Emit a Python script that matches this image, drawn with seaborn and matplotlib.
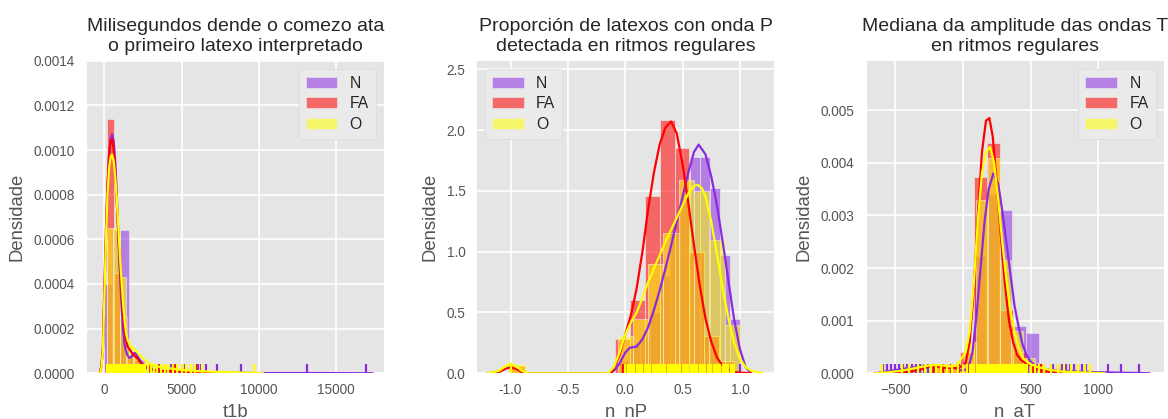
import numpy as np
import pandas as pd
import matplotlib
matplotlib.use("Agg")
import matplotlib.pyplot as plt
import seaborn as sns
from matplotlib.ticker import FormatStrFormatter, MultipleLocator

# ---------------------------------------------------------------------------
# Groups and colours
# ---------------------------------------------------------------------------
groups = ["N", "FA", "O"]
colors = {"N": "#8A2BE2", "FA": "#FF0000", "O": "#FFFF00"}

# ---------------------------------------------------------------------------
# t1b: ms from start to first interpreted beat
# ---------------------------------------------------------------------------
t1b_bin0 = {"N": -40, "FA": 175, "O": 150}
t1b_binw = {"N": 540, "FA": 430, "O": 420}
t1b_hist_N = [0.0004, 0.00064, 0.000644, 0.00008, 0.00006, 0.00004, 0.00002,
              0.00001, 0.00001, 0.000008, 0.000005, 0.000012, 0.000006, 0.000006,
              0.0, 0.000004, 0.0, 0.0, 0.0, 0.0, 0.0, 0.0, 0.0, 0.0, 0.000004,
              0.0, 0.0, 0.0, 0.0, 0.0, 0.0, 0.000004]
t1b_hist_FA = [0.00114, 0.00045, 0.00025, 0.00008, 0.00006, 0.00004, 0.00002,
               0.00001, 0.00001, 0.00001, 0.00001, 0.0, 0.0, 0.00001]
t1b_hist_O = [0.00065, 0.00065, 0.00043, 0.00012, 0.00009, 0.00005, 0.00003,
              0.00002, 0.000015, 0.00001, 0.00001, 0.00001, 0.000008, 0.000008,
              0.000005, 0.000005, 0.0, 0.0, 0.0, 0.0, 0.0, 0.0, 0.000005]

t1b_kde_x_N = [-300, -200, -100, 0, 100, 200, 300, 400, 500, 600, 700, 800, 900,
               1000, 1100, 1200, 1300, 1400, 1500, 1600, 1700, 1800, 1900, 2000,
               2100, 2200, 2400, 2600, 2800, 3000, 3500, 4000, 5000, 6000, 7000,
               8000, 9000, 10000, 12000, 14000, 16000, 17400]
t1b_kde_y_N = [0.0, 0.00003, 0.0001, 0.00036, 0.0006, 0.00083, 0.00098, 0.00105,
               0.00107, 0.00104, 0.00095, 0.0008, 0.00062, 0.00046, 0.00031,
               0.0002, 0.00013, 0.0001, 0.00008, 0.00007, 0.00007, 0.00008,
               0.00009, 0.00009, 0.00008, 0.00007, 0.00005, 0.00003, 0.00002,
               0.000015, 0.00001, 0.000008, 0.000006, 0.000005, 0.000004,
               0.000003, 0.000002, 0.000001, 0.000001, 0.000001, 0.0000005, 0.0]
t1b_kde_x_FA = [-300, -200, -100, 0, 100, 200, 300, 400, 500, 600, 700, 800, 900,
                1000, 1100, 1200, 1300, 1400, 1500, 1700, 1900, 2100, 2300, 2600,
                3000, 3500, 4000, 4500, 5000, 5500, 6000, 6500, 7000, 7500]
t1b_kde_y_FA = [0.0, 0.00003, 0.00012, 0.0004, 0.00065, 0.00085, 0.00098, 0.00104,
                0.00105, 0.001, 0.0009, 0.00077, 0.00062, 0.00048, 0.00037,
                0.00027, 0.0002, 0.00015, 0.00012, 0.0001, 0.00008, 0.00007,
                0.00005, 0.00003, 0.00002, 0.000012, 0.00001, 0.00001, 0.000008,
                0.000006, 0.000005, 0.000003, 0.000002, 0.0]
t1b_kde_x_O = [-300, -200, -100, 0, 100, 200, 300, 400, 500, 600, 700, 800, 900,
               1000, 1100, 1200, 1300, 1400, 1500, 1700, 1900, 2100, 2300, 2600,
               3000, 3500, 4000, 4500, 5000, 6000, 7000, 8000, 9000, 10000, 10300]
t1b_kde_y_O = [0.0, 0.00002, 0.0001, 0.00035, 0.0006, 0.0008, 0.00092, 0.00097,
               0.00098, 0.00095, 0.00088, 0.00078, 0.00066, 0.00053, 0.00042,
               0.00032, 0.00024, 0.00018, 0.00015, 0.00012, 0.00011, 0.0001,
               0.00008, 0.00006, 0.00004, 0.00003, 0.000025, 0.00002, 0.000015,
               0.00001, 0.000007, 0.000005, 0.000003, 0.000001, 0.0]

t1b_rug_N = [210, 300, 380, 460, 540, 620, 700, 790, 880, 980, 1090, 1200, 1330,
             1480, 1650, 1850, 2100, 2450, 2900, 3600, 4300, 5200, 6070, 6280,
             6610, 7320, 8820, 13150, 16970]
t1b_rug_FA = [180, 260, 340, 420, 500, 580, 660, 750, 850, 960, 1080, 1220, 1380,
              1560, 1780, 2050, 2400, 2900, 3500, 4440, 4590, 5850, 5960]
t1b_rug_O = [160, 230, 290, 340, 390, 430, 470, 510, 560, 600, 650, 700, 760, 820,
             880, 950, 1020, 1100, 1180, 1260, 1350, 1440, 1540, 1650, 1760, 1880,
             2000, 2120, 2250, 2380, 2520, 2660, 2820, 2990, 3180, 3400, 3650,
             3900, 4150, 4420, 4700, 5050, 5300, 5620, 5900, 6300, 9710]

# ---------------------------------------------------------------------------
# n_nP: proportion of beats with detected P wave in regular rhythms
# ---------------------------------------------------------------------------
nnp_bin0 = {"N": -0.05, "FA": -1.0, "O": -1.0}
nnp_binw = {"N": 0.0875, "FA": 0.13, "O": 0.1333}
nnp_hist_N = [0.1, 0.25, 0.3, 0.5, 0.8, 1.15, 1.45, 1.78, 1.78, 1.52, 0.97, 0.45]
nnp_hist_FA = [0.06, 0.0, 0.0, 0.0, 0.0, 0.0, 0.0, 0.28, 0.6, 1.46, 2.08, 1.85,
               1.0, 0.31, 0.1]
nnp_hist_O = [0.08, 0.0, 0.0, 0.0, 0.0, 0.0, 0.0, 0.31, 0.45, 0.9, 1.15, 1.59,
              1.5, 1.1, 0.4]

nnp_kde_x_N = [-0.15, -0.1, -0.05, 0.0, 0.04, 0.1, 0.15, 0.2, 0.25, 0.3, 0.35,
               0.4, 0.45, 0.5, 0.55, 0.6, 0.64, 0.7, 0.75, 0.8, 0.85, 0.9, 0.95,
               1.0, 1.05, 1.1]
nnp_kde_y_N = [0.0, 0.02, 0.08, 0.17, 0.21, 0.22, 0.28, 0.38, 0.52, 0.68, 0.86,
               1.05, 1.25, 1.45, 1.65, 1.82, 1.88, 1.80, 1.62, 1.38, 1.08, 0.76,
               0.44, 0.2, 0.05, 0.0]
nnp_kde_x_FA = [-1.2, -1.1, -1.05, -1.0, -0.95, -0.9, -0.85, -0.5, -0.12, -0.05,
                0.0, 0.05, 0.1, 0.15, 0.2, 0.25, 0.3, 0.35, 0.4, 0.45, 0.5, 0.55,
                0.6, 0.65, 0.7, 0.75, 0.8, 0.85, 0.9, 0.95, 1.0, 1.1]
nnp_kde_y_FA = [0.0, 0.01, 0.035, 0.05, 0.035, 0.01, 0.0, 0.0, 0.0, 0.15, 0.32,
                0.48, 0.7, 1.0, 1.35, 1.65, 1.88, 2.02, 2.07, 1.97, 1.72, 1.4,
                1.05, 0.72, 0.45, 0.26, 0.13, 0.06, 0.03, 0.01, 0.005, 0.0]
nnp_kde_x_O = [-1.2, -1.1, -1.05, -1.0, -0.95, -0.9, -0.85, -0.5, -0.15, -0.1,
               -0.05, 0.0, 0.05, 0.1, 0.15, 0.2, 0.25, 0.3, 0.35, 0.4, 0.45, 0.5,
               0.55, 0.6, 0.63, 0.67, 0.7, 0.75, 0.8, 0.85, 0.9, 0.95, 1.0, 1.05,
               1.1, 1.2]
nnp_kde_y_O = [0.0, 0.02, 0.055, 0.08, 0.055, 0.02, 0.0, 0.0, 0.0, 0.05, 0.17,
               0.32, 0.42, 0.5, 0.62, 0.75, 0.86, 0.97, 1.08, 1.18, 1.28, 1.38,
               1.48, 1.54, 1.55, 1.52, 1.45, 1.25, 0.98, 0.7, 0.45, 0.25, 0.12,
               0.05, 0.02, 0.0]

nnp_rug_N = [0.0, 0.05, 0.12, 0.2, 0.3, 0.4, 0.5, 0.6, 0.7, 0.8, 0.9, 1.0]
nnp_rug_FA = [-1.0, -0.02, 0.05, 0.1, 0.15, 0.2, 0.25, 0.3, 0.35, 0.4, 0.45,
              0.5, 0.55, 0.6, 0.7, 0.8]
nnp_rug_O = [-1.0, 0.0, 0.02, 0.03, 0.05, 0.07, 0.08, 0.1, 0.12, 0.13, 0.15,
             0.17, 0.18, 0.2, 0.22, 0.24, 0.25, 0.27, 0.29, 0.3, 0.32, 0.33,
             0.35, 0.37, 0.38, 0.4, 0.42, 0.43, 0.45, 0.47, 0.48, 0.5, 0.52,
             0.53, 0.55, 0.57, 0.58, 0.6, 0.62, 0.63, 0.65, 0.67, 0.68, 0.7,
             0.72, 0.73, 0.75, 0.77, 0.78, 0.8, 0.82, 0.83, 0.85, 0.87, 0.88,
             0.9, 0.92, 0.93, 0.95]

# ---------------------------------------------------------------------------
# n_aT: median T-wave amplitude in regular rhythms
# ---------------------------------------------------------------------------
nat_bin0 = {"N": -610, "FA": -216, "O": -610}
nat_binw = {"N": 97.5, "FA": 98, "O": 88}
nat_hist_N = [0.00004, 0.00005, 0.00005, 0.00005, 0.00003, 0.00002, 0.0001,
              0.00222, 0.0034, 0.00311, 0.0009, 0.00077, 0.0001, 0.00005,
              0.00005, 0.00004, 0.0, 0.00001, 0.00001, 0.00001]
nat_hist_FA = [0.00015, 0.00008, 0.0004, 0.00373, 0.00438, 0.0012, 0.0004,
               0.0002, 0.00005]
nat_hist_O = [0.00003, 0.00005, 0.00008, 0.0001, 0.00014, 0.00012, 0.00015,
              0.0006, 0.0033, 0.0041, 0.00216, 0.0008, 0.0003, 0.0001, 0.00006,
              0.00004, 0.00004, 0.00003]

nat_kde_x_N = [-650, -600, -500, -400, -300, -200, -100, -40, 0, 40, 70, 100, 130,
               160, 190, 225, 260, 290, 320, 350, 380, 410, 440, 470, 500, 550,
               600, 700, 800, 900, 1000, 1100, 1200, 1300, 1380]
nat_kde_y_N = [0.0, 0.00002, 0.00006, 0.0001, 0.00013, 0.00015, 0.00012, 0.00008,
               0.00005, 0.0001, 0.0004, 0.0011, 0.002, 0.0029, 0.0035, 0.0038,
               0.0036, 0.0031, 0.0025, 0.0019, 0.0013, 0.0009, 0.00055, 0.00035,
               0.00022, 0.00012, 0.00008, 0.00005, 0.00004, 0.00003, 0.00002,
               0.000015, 0.00001, 0.000005, 0.0]
nat_kde_x_FA = [-650, -500, -400, -300, -250, -220, -180, -120, -60, -20, 20, 50,
                80, 110, 140, 170, 195, 220, 250, 280, 310, 340, 370, 400, 430,
                460, 500, 550, 600, 700, 800]
nat_kde_y_FA = [0.0, 0.00001, 0.00003, 0.00008, 0.00013, 0.00016, 0.00012, 0.0001,
                0.0001, 0.00012, 0.0002, 0.0006, 0.0016, 0.003, 0.0042, 0.0048,
                0.00485, 0.0045, 0.0036, 0.0026, 0.0017, 0.001, 0.0006, 0.00035,
                0.00025, 0.0002, 0.00015, 0.00008, 0.00004, 0.00001, 0.0]
nat_kde_x_O = [-650, -550, -450, -350, -250, -200, -150, -100, -50, -20, 20, 50,
               80, 110, 140, 170, 200, 230, 260, 290, 320, 350, 380, 410, 440,
               480, 550, 650, 750, 850, 950, 1050]
nat_kde_y_O = [0.0, 0.00002, 0.00005, 0.0001, 0.00015, 0.00016, 0.00015, 0.00013,
               0.00015, 0.00025, 0.0004, 0.0008, 0.0017, 0.0029, 0.0038, 0.0042,
               0.0043, 0.004, 0.0033, 0.0025, 0.0018, 0.0012, 0.0008, 0.0005,
               0.0003, 0.0002, 0.00012, 0.00006, 0.00003, 0.00002, 0.00001, 0.0]

nat_rug_N = [-590, -560, -530, -500, -470, -440, -410, -380, -350, -320, -290,
             -260, -230, 60, 120, 180, 240, 300, 360, 420, 480, 540, 665, 700,
             730, 760, 790, 820, 850, 880, 910, 1070, 1167, 1302]
nat_rug_FA = [-216, -150, -90, -30, 40, 100, 160, 220, 280, 340, 400, 460, 520,
              580]
nat_rug_O = [-600, -450, -400, -330, -280, -240, -200, -160, -120, -80, -40, 0,
             30, 55, 70, 85, 100, 115, 130, 145, 160, 175, 190, 205, 220, 235,
             250, 265, 280, 295, 310, 325, 340, 355, 370, 385, 400, 415, 430,
             445, 460, 475, 500, 530, 560, 600, 650, 700, 750, 800, 850, 900, 940]

# ---------------------------------------------------------------------------
# Panels
# ---------------------------------------------------------------------------
panels = [
    dict(title="Milisegundos dende o comezo ata\no primeiro latexo interpretado",
         xlabel="t1b", bin0=t1b_bin0, binw=t1b_binw,
         hist={"N": t1b_hist_N, "FA": t1b_hist_FA, "O": t1b_hist_O},
         kde={"N": (t1b_kde_x_N, t1b_kde_y_N), "FA": (t1b_kde_x_FA, t1b_kde_y_FA),
              "O": (t1b_kde_x_O, t1b_kde_y_O)},
         rug={"N": t1b_rug_N, "FA": t1b_rug_FA, "O": t1b_rug_O},
         xlim=(-1150, 18100), ylim=(0, 0.0014), xstep=5000, ystep=0.0002,
         yfmt="%.4f", xfmt=None, legend_loc="upper right"),
    dict(title="Proporción de latexos con onda P\ndetectada en ritmos regulares",
         xlabel="n_nP", bin0=nnp_bin0, binw=nnp_binw,
         hist={"N": nnp_hist_N, "FA": nnp_hist_FA, "O": nnp_hist_O},
         kde={"N": (nnp_kde_x_N, nnp_kde_y_N), "FA": (nnp_kde_x_FA, nnp_kde_y_FA),
              "O": (nnp_kde_x_O, nnp_kde_y_O)},
         rug={"N": nnp_rug_N, "FA": nnp_rug_FA, "O": nnp_rug_O},
         xlim=(-1.29, 1.30), ylim=(0, 2.57), xstep=0.5, ystep=0.5,
         yfmt="%.1f", xfmt="%.1f", legend_loc="upper left"),
    dict(title="Mediana da amplitude das ondas T\nen ritmos regulares",
         xlabel="n_aT", bin0=nat_bin0, binw=nat_binw,
         hist={"N": nat_hist_N, "FA": nat_hist_FA, "O": nat_hist_O},
         kde={"N": (nat_kde_x_N, nat_kde_y_N), "FA": (nat_kde_x_FA, nat_kde_y_FA),
              "O": (nat_kde_x_O, nat_kde_y_O)},
         rug={"N": nat_rug_N, "FA": nat_rug_FA, "O": nat_rug_O},
         xlim=(-713, 1482), ylim=(0, 0.00594), xstep=500, ystep=0.001,
         yfmt="%.3f", xfmt=None, legend_loc="upper right"),
]

# ---------------------------------------------------------------------------
# Style
# ---------------------------------------------------------------------------
sns.set_theme(style="darkgrid")
plt.style.use("ggplot")
plt.rcParams["font.family"] = ["Liberation Sans", "DejaVu Sans"]
plt.rcParams["axes.unicode_minus"] = True

W, H = 1168, 419
fig = plt.figure(figsize=(W / 100, H / 100), dpi=100)
fig.patch.set_facecolor("white")

lefts = [86.7, 477.3, 866.5]
ax_w, ax_top, ax_bot = 297.0, 60.7, 373.3

for left, p in zip(lefts, panels):
    ax = fig.add_axes([left / W, (H - ax_bot) / H, ax_w / W, (ax_bot - ax_top) / H])
    ax.set_facecolor("#E5E5E5")
    for g in groups:
        heights = np.asarray(p["hist"][g], dtype=float)
        edges = p["bin0"][g] + p["binw"][g] * np.arange(len(heights) + 1)
        bars = pd.DataFrame({"value": 0.5 * (edges[:-1] + edges[1:]),
                             "density": heights})
        sns.histplot(data=bars, x="value", weights="density",
                     bins=[float(e) for e in edges],
                     stat="count", color=colors[g], alpha=0.55, ax=ax, label=g,
                     edgecolor=(0.93, 0.93, 0.93, 0.6), linewidth=0.7)
        kx, ky = p["kde"][g]
        sns.lineplot(x=kx, y=ky, color=colors[g], linewidth=1.6, ax=ax)
        sns.rugplot(x=p["rug"][g], height=0.03, color=colors[g],
                    linewidth=1.6, ax=ax)

    ax.set_xlim(*p["xlim"])
    ax.set_ylim(*p["ylim"])
    ax.xaxis.set_major_locator(MultipleLocator(p["xstep"]))
    ax.yaxis.set_major_locator(MultipleLocator(p["ystep"]))
    ax.yaxis.set_major_formatter(FormatStrFormatter(p["yfmt"]))
    if p["xfmt"]:
        ax.xaxis.set_major_formatter(FormatStrFormatter(p["xfmt"]))
    ax.grid(True, color="white", linewidth=1.2)
    ax.set_axisbelow(True)
    for s in ax.spines.values():
        s.set_visible(False)
    ax.tick_params(axis="both", length=0, labelsize=9.8, labelcolor="#555555")
    ax.tick_params(axis="x", pad=7)
    ax.tick_params(axis="y", pad=8.5)

    ax.set_title(p["title"], fontsize=14, color="#262626", pad=7)
    ax.set_xlabel(p["xlabel"], fontsize=13.3, color="#555555", labelpad=5)
    ax.set_ylabel("Densidade", fontsize=13.3, color="#555555", labelpad=6)

    leg = ax.legend(loc=p["legend_loc"], fontsize=11.3, frameon=True,
                    labelspacing=0.35, handlelength=2.0, borderpad=0.45)
    leg.get_frame().set_facecolor("#EAEAEA")
    leg.get_frame().set_edgecolor("#DADADA")
    leg.get_frame().set_alpha(1.0)
    for t in leg.get_texts():
        t.set_color("#262626")

fig.savefig("out.png", dpi=100)
